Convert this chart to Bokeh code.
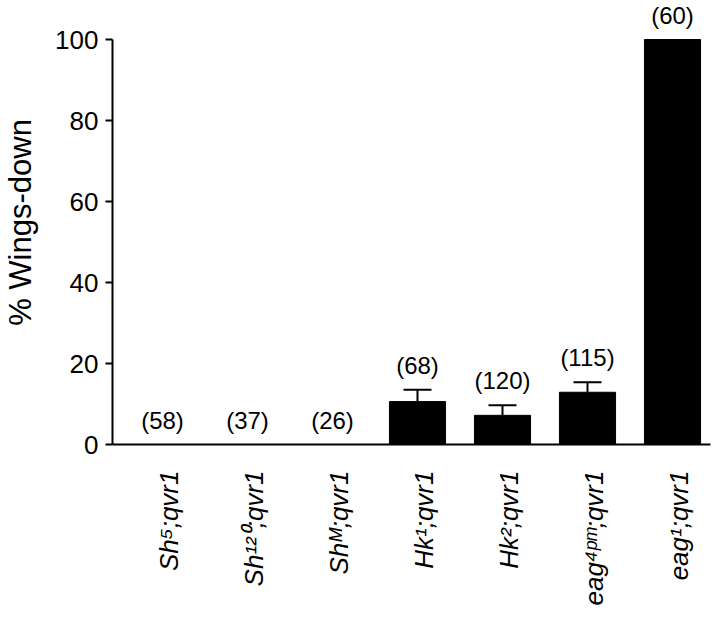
import math
from bokeh.plotting import figure
from bokeh.models import ColumnDataSource, Range1d, FixedTicker, Whisker, TeeHead, LabelSet
from bokeh.embed import file_html
from bokeh.resources import INLINE
from bokeh.core.properties import value

# ---- data -------------------------------------------------------------
genotypes = ["Sh\u2075;qvr1", "Sh\u00b9\u00b2\u2070;qvr1", "Sh\u1d39;qvr1",
             "Hk\u00b9;qvr1", "Hk\u00b2;qvr1", "eag\u2074\u1d56\u1d50;qvr1", "eag\u00b9;qvr1"]
pct_wings_down = [0, 0, 0, 10.6, 7.2, 12.9, 100]
sem = [0, 0, 0, 2.9, 2.5, 2.5, 0]
n_flies = [58, 37, 26, 68, 120, 115, 60]
y_ticks = [0, 20, 40, 60, 80, 100]

FONT = "Liberation Sans"
LABEL_SHIFT = 0.08   # tick labels sit slightly right of the bar centres

xpos = list(range(len(genotypes)))
src = ColumnDataSource(dict(
    x=xpos, top=pct_wings_down,
    label_y=[t + e for t, e in zip(pct_wings_down, sem)],
    n=["(%d)" % v for v in n_flies],
))
err_idx = [i for i, e in enumerate(sem) if e > 0]
err_src = ColumnDataSource(dict(
    x=[xpos[i] for i in err_idx],
    lower=[pct_wings_down[i] for i in err_idx],
    upper=[pct_wings_down[i] + sem[i] for i in err_idx],
))

p = figure(width=712, height=618,
           x_range=Range1d(-0.588, 6.447), y_range=Range1d(0, 109.63),
           output_backend="svg", toolbar_location=None,
           min_border_left=112, min_border_right=2, min_border_top=0,
           min_border_bottom=174)

p.vbar(x="x", top="top", bottom=0, width=0.66, source=src,
       fill_color="black", line_color="black")

wh = Whisker(base="x", lower="lower", upper="upper", source=err_src,
             line_color="black", line_width=2,
             upper_head=TeeHead(size=28, line_color="black", line_width=2),
             lower_head=None)
p.add_layout(wh)

labels = LabelSet(x="x", y="label_y", text="n", source=src,
                  text_align="center", text_baseline="bottom", y_offset=11,
                  text_font=value(FONT), text_font_size=value("24px"),
                  text_color="black")
p.add_layout(labels)

# ---- axes -------------------------------------------------------------
p.xgrid.visible = False
p.ygrid.visible = False
p.outline_line_color = None

ya = p.yaxis[0]
ya.ticker = FixedTicker(ticks=y_ticks)
ya.bounds = (0, 100)
ya.minor_tick_line_color = None
ya.major_tick_in = 0
ya.major_tick_out = 7
ya.major_tick_line_width = 2
ya.axis_line_width = 2
ya.major_label_text_font = FONT
ya.major_label_text_font_size = "26px"
ya.major_label_text_color = "black"
ya.major_label_standoff = 7
ya.axis_label = "% Wings-down"
ya.axis_label_text_font = FONT
ya.axis_label_text_font_size = "31px"
ya.axis_label_text_font_style = "normal"
ya.axis_label_text_color = "black"
ya.axis_label_standoff = 14

tick_pos = [x + LABEL_SHIFT for x in xpos]
xa = p.xaxis[0]
xa.ticker = FixedTicker(ticks=tick_pos)
xa.major_label_overrides = {t: g for t, g in zip(tick_pos, genotypes)}
xa.major_label_orientation = math.pi / 2
xa.major_tick_line_color = None
xa.minor_tick_line_color = None
xa.major_tick_in = 0
xa.major_tick_out = 0
xa.axis_line_width = 2
xa.major_label_text_font = FONT
xa.major_label_text_font_size = "26px"
xa.major_label_text_font_style = "italic"
xa.major_label_text_color = "black"
xa.major_label_standoff = 26

open("out.html", "w").write(file_html(p, INLINE))
